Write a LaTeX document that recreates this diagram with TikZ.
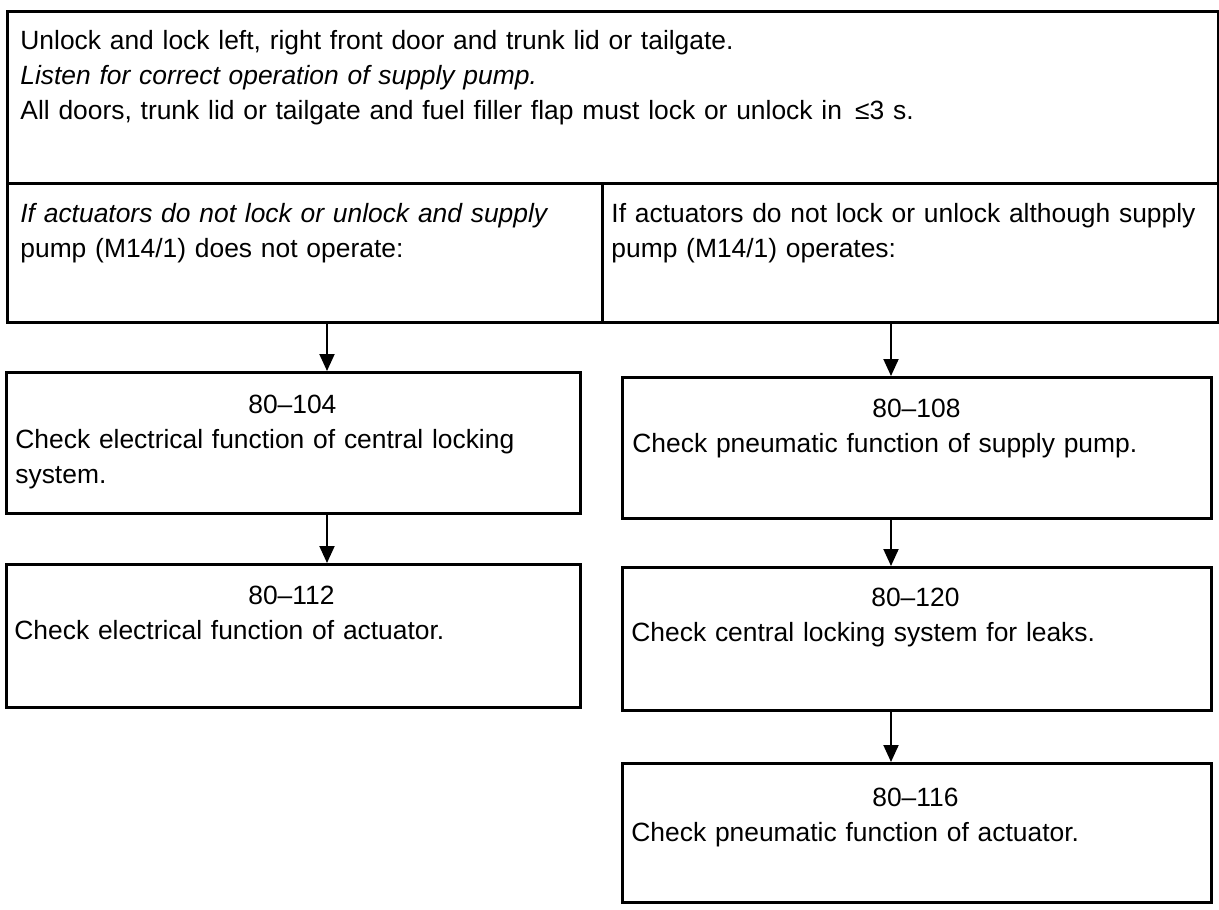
\documentclass[tikz,border=0pt]{standalone}
\usepackage{fontspec}
\setmainfont{Liberation Sans}
\usetikzlibrary{arrows.meta}

\tikzset{
  frame/.style={draw, line width=1.3pt, rectangle, inner sep=0pt, anchor=north west},
  txt/.style={anchor=base west, inner sep=0pt, align=left, font=\fontsize{13.2pt}{17.5pt}\selectfont},
  flow/.style={line width=1pt, -{Triangle[width=7.5pt,length=8.5pt]}}
}

\begin{document}
\begin{tikzpicture}[x=0.5pt, y=-0.5pt]
    \useasboundingbox (0,0) rectangle (1219,909);
    % test frame at the top
    \node[frame, minimum width=605.5pt, minimum height=86pt] (top) at (6,10) {};
    \node[frame, minimum width=297.5pt, minimum height=69.5pt] (condL) at (6,182) {};
    \node[frame, minimum width=308pt, minimum height=69.5pt] (condR) at (601,182) {};
    % left branch
    \node[frame, minimum width=287pt, minimum height=70.5pt] (b104) at (5,371) {};
    \node[frame, minimum width=287pt, minimum height=71.5pt] (b112) at (5,563) {};
    % right branch
    \node[frame, minimum width=294.5pt, minimum height=70.5pt] (b108) at (621,376) {};
    \node[frame, minimum width=294.5pt, minimum height=71.5pt] (b120) at (621,566) {};
    \node[frame, minimum width=294.5pt, minimum height=69.5pt] (b116) at (621,762) {};

    \node[txt, text width=590pt] (ttop) at (20,50)
      {Unlock and lock left, right front door and trunk lid or tailgate.\\
       \textit{Listen for correct operation of supply pump.}\\
       All doors, trunk lid or tailgate and fuel filler flap must lock or unlock in \,≤3 s.};
    \node[txt, text width=290pt] (tcondL) at (20,222)
      {\textit{If actuators do not lock or unlock and supply}\\
       pump (M14/1) does not operate:};
    \node[txt, text width=302pt] (tcondR) at (611,222)
      {If actuators do not lock or unlock although supply\\
       pump (M14/1) operates:};

    \node[txt, text width=277pt] (t104) at (15,413)
      {\centering 80--104\par\raggedright
       Check electrical function of central locking\\ system.};
    \node[txt, text width=277pt] (t112) at (14,604)
      {\centering 80--112\par\raggedright
       Check electrical function of actuator.};
    \node[txt, text width=284pt] (t108) at (632,417)
      {\centering 80--108\par\raggedright
       Check pneumatic function of supply pump.};
    \node[txt, text width=284pt] (t120) at (631,606)
      {\centering 80--120\par\raggedright
       Check central locking system for leaks.};
    \node[txt, text width=284pt] (t116) at (631,806)
      {\centering 80--116\par\raggedright
       Check pneumatic function of actuator.};

    \coordinate (colL) at (327,0);
    \coordinate (colR) at (891,0);
    \draw[flow] (condL.south -| colL) -- (b104.north -| colL);
    \draw[flow] (b104.south -| colL) -- (b112.north -| colL);
    \draw[flow] (condR.south -| colR) -- (b108.north -| colR);
    \draw[flow] (b108.south -| colR) -- (b120.north -| colR);
    \draw[flow] (b120.south -| colR) -- (b116.north -| colR);
\end{tikzpicture}
\end{document}
